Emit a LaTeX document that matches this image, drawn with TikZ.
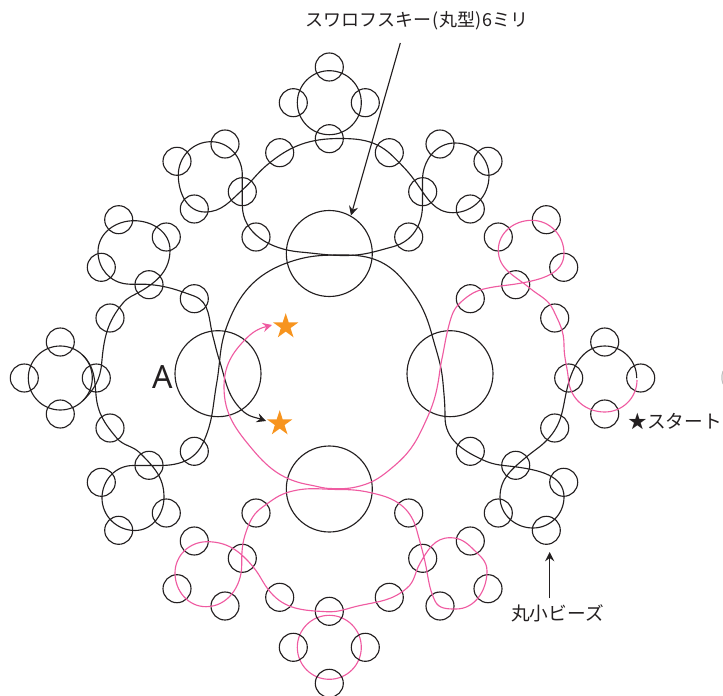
\documentclass[tikz,border=0pt]{standalone}
\usepackage{fontspec}
\setmainfont{Noto Sans}
\newfontfamily\jpfont{Noto Sans CJK JP}
\usetikzlibrary{shapes.geometric,arrows.meta,calc}
\definecolor{ink}{HTML}{231F20}
\definecolor{pinkthread}{HTML}{EF5BA1}
\definecolor{staror}{HTML}{F7941E}
\tikzset{
  bead/.style={circle,draw=ink,line width=0.85pt,minimum size=21pt,inner sep=0pt,outer sep=0pt},
  crystal/.style={circle,draw=ink,line width=0.85pt,minimum size=64.5pt,inner sep=0pt,outer sep=0pt},
  blackring/.style={circle,draw=ink,line width=0.85pt,minimum size=48pt,inner sep=0pt,outer sep=0pt},
  pinkring/.style={circle,draw=pinkthread,line width=0.85pt,minimum size=48pt,inner sep=0pt,outer sep=0pt},
  blackthread/.style={draw=ink,line width=0.85pt},
  pinkline/.style={draw=pinkthread,line width=0.85pt},
  lead/.style={draw=ink,line width=0.85pt,-{Stealth[length=7pt,width=7pt,inset=2.5pt]}},
  pinklead/.style={draw=pinkthread,line width=0.85pt,-{Stealth[length=7pt,width=7pt,inset=2.5pt]}},
  orangestar/.style={star,star points=5,star point ratio=2.618,fill=staror,draw=none,minimum size=20pt,inner sep=0pt,outer sep=0pt},
  jplabel/.style={font=\jpfont\fontsize{14}{16}\selectfont,text=ink,inner sep=0pt,outer sep=0pt},
}
\begin{document}
\begin{tikzpicture}[x=0.75pt,y=-0.75pt]
\useasboundingbox (0,0) rectangle (723,695);
% crystals
\node[crystal] (cTop) at (329.3,253.5) {};
\node[crystal] (cLeft) at (218,373.7) {};
\node[crystal] (cRight) at (450,373.7) {};
\node[crystal] (cBottom) at (329.3,489) {};
% thread rings
\node[blackring] (rTop) at (329.3,102.7) {};
\node[blackring] (rLeft) at (60.3,378) {};
\node[pinkring] (rBottom) at (329.3,647.3) {};
% beads
\foreach \n/\x/\y in {
 1/329.3/67, 2/293.3/102.7, 3/329.3/138.7, 4/365.3/102.7,
 5/225/144, 6/177/161.3, 7/194.3/209, 8/242.3/191.7, 9/279.7/152.7, 10/256/237,
 11/118.7/219.7, 12/166.3/237, 13/101.3/267.3, 14/149/284.7, 15/194.3/298.7, 16/110/318,
 17/60.3/342, 18/24.3/378, 19/96.3/378, 20/60.3/414,
 21/110/428, 22/194.3/451.3, 23/149/465.3, 24/101.3/482.3, 25/166.3/513, 26/118.7/530.3,
 27/256/513, 28/194.3/541, 29/242.3/558.3, 30/177/588.7, 31/225/606, 32/279.7/597.3,
 33/329.3/611.3, 34/293.3/647.3, 35/365.3/647.3, 36/329.3/683.3,
 37/389.3/152.7, 38/440/144, 39/488/161.3, 40/422.7/191.7, 41/470.3/209, 42/408.7/237,
 43/498.3/237, 44/546.3/219.7, 45/563.7/267.3, 46/515.7/284.7, 47/470.3/298.7, 48/554.7/318,
 49/604.7/342, 50/568.7/378, 51/640.7/378, 52/604.7/414,
 53/554.7/428, 54/470.3/451.3, 55/515.7/465.3, 56/563.7/482.3, 57/498.3/513, 58/546.3/530.3,
 59/408.7/513, 60/470.3/541, 61/422.7/558.3, 62/488/588.7, 63/440/606, 64/389.3/597.3}
 {\node[bead] (b\n) at (\x,\y) {};}
% black threads
\draw[blackthread] (340,138.5)
 to[out=180,in=40] (267,165)
 to[out=220,in=42] (242.3,190)
 to[out=222,in=0] (205,212)
 to[out=180,in=270] (178.3,175)
 to[out=90,in=180] (211,141.7)
 to[out=0,in=90] (242.3,175)
 to[out=270,in=90] (242.3,205)
 to[out=270,in=175] (300,252)
 to[out=-5,in=180] (345,255.5)
 to[out=0,in=195] (393,246.7)
 to[out=15,in=270] (422.5,205)
 to[out=90,in=270] (422.5,180)
 to[out=90,in=180] (455,143)
 to[out=0,in=90] (489,176)
 to[out=270,in=0] (453,212.7)
 to[out=180,in=305] (416.7,183.3)
 to[out=125,in=315] (393.3,156.7)
 to[out=135,in=0] (340,138.5);
\draw[blackthread] (83,355.4)
 to[out=-45,in=95] (96,395)
 to[out=-85,in=130] (116.7,438)
 to[out=-50,in=135] (140,453)
 to[out=-45,in=90] (164,497)
 to[out=270,in=0] (135,530.5)
 to[out=180,in=270] (102,498)
 to[out=90,in=180] (133,465.5)
 to[out=0,in=180] (160,465.5)
 to[out=0,in=245] (203,443)
 to[out=65,in=260] (216.7,383)
 to[out=80,in=250] (226.7,326.7)
 to[out=70,in=200] (286.7,263)
 to[out=20,in=180] (345,255)
 to[out=0,in=130] (403,280)
 to[out=-50,in=105] (432,335)
 to[out=-75,in=95] (443,383)
 to[out=-85,in=90] (445,417)
 to[out=270,in=155] (483,460)
 to[out=-25,in=172] (516.7,467)
 to[out=-8,in=90] (564,497)
 to[out=270,in=0] (533,528)
 to[out=180,in=270] (500,497)
 to[out=90,in=220] (526.7,456.7)
 to[out=40,in=230] (550,436.7)
 to[out=50,in=255] (568,385)
 to[out=75,in=180] (604.7,346)
 to[out=0,in=90] (636.7,378);
\coordinate (tipBlack) at (266,421);
\draw[lead] (83,400.6)
 to[out=45,in=265] (101.7,363)
 to[out=85,in=230] (123,303)
 to[out=50,in=210] (140,291.7)
 to[out=30,in=270] (170,250)
 to[out=90,in=0] (134,220.7)
 to[out=180,in=90] (98,251.7)
 to[out=270,in=175] (127,284)
 to[out=-5,in=175] (149,284.5)
 to[out=-5,in=160] (194,296)
 to[out=-20,in=105] (213,336.7)
 to[out=-75,in=108] (219.3,360)
 to[out=-72,in=135] (241.7,410)
 to[out=-45,in=160] (tipBlack);
% pink threads
\coordinate (tipPink) at (272,325);
\draw[pinklead] (637,380)
 to[out=270,in=0] (604.7,412)
 to[out=180,in=275] (568.5,380)
 to[out=95,in=270] (564,345)
 to[out=90,in=295] (553.3,310)
 to[out=115,in=320] (530,288.3)
 to[out=140,in=270] (498.3,250)
 to[out=90,in=180] (531.7,220.3)
 to[out=0,in=90] (564,253.3)
 to[out=270,in=10] (520,283.3)
 to[out=190,in=12] (486.7,288.3)
 to[out=192,in=42] (461,302)
 to[out=222,in=75] (449,325)
 to[out=255,in=78] (441.7,360)
 to[out=258,in=80] (438,383)
 to[out=260,in=65] (423,427)
 to[out=245,in=40] (393.3,466.7)
 to[out=220,in=15] (360,486)
 to[out=195,in=-2] (330,488.5)
 to[out=178,in=-10] (310,485)
 to[out=170,in=310] (253,450)
 to[out=130,in=270] (224,387)
 to[out=90,in=225] (246.7,338)
 to[out=45,in=195] (tipPink);
\draw[pinkline] (340,489.5)
 to[out=180,in=15] (290,491.7)
 to[out=195,in=35] (263,506.7)
 to[out=215,in=70] (246.7,530)
 to[out=250,in=90] (241.7,565)
 to[out=270,in=0] (206,606.7)
 to[out=180,in=270] (175,573)
 to[out=90,in=180] (207,541.7)
 to[out=0,in=130] (253,566.7)
 to[out=-50,in=130] (270,591.7)
 to[out=-50,in=177] (326.7,611.7)
 to[out=-3,in=192] (360,605.5)
 to[out=12,in=220] (406.7,588.3)
 to[out=40,in=240] (420,563.3)
 to[out=60,in=180] (450,537.7)
 to[out=0,in=135] (473,549)
 to[out=-45,in=90] (487,571)
 to[out=270,in=0] (456,609)
 to[out=180,in=295] (435,601)
 to[out=115,in=280] (427,572)
 to[out=100,in=285] (416.7,530)
 to[out=105,in=345] (380,495)
 to[out=165,in=0] (340,489.5);
% stars
\node[orangestar] (starTop) at (285.7,326.5) {};
\node[orangestar] (starLow) at (279.7,423.5) {};
% labels
\node[font=\fontsize{24}{26}\selectfont,text=ink,inner sep=0pt] (lblA) at (162.7,377) {A};
\node[jplabel,font=\jpfont\fontsize{13.5}{16}\selectfont] (lblTop) at (417,21) {スワロフスキー\kern1pt(丸型)\kern1pt6ミリ};
\node[jplabel] (lblBead) at (557.5,613) {丸小ビーズ};
\node[jplabel] (lblStart) at (675,421) {★スタート};
% leaders
\coordinate (tipTop) at (351,215.5);
\coordinate (tipBead) at (549.7,552);
\coordinate (startTop) at (400.3,43);
\draw[lead] (startTop) -- (tipTop);
\draw[lead] (lblBead.north -| tipBead) ++(0,-6) -- (tipBead);
\draw[draw=gray!50,line width=0.8pt] (723,371) -- (722,375) -- (722,380) -- (723,384);
\end{tikzpicture}
\end{document}
